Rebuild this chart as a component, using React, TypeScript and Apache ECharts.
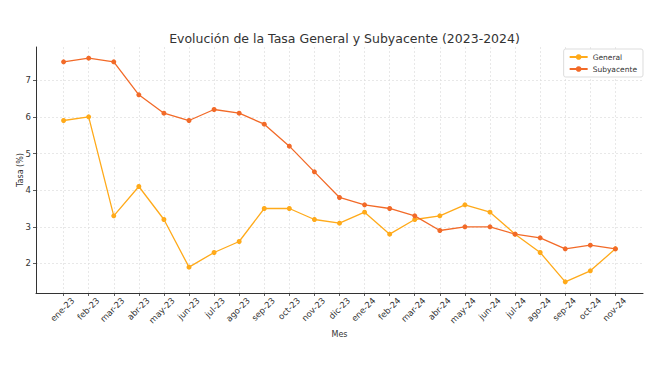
import React, { useEffect, useRef } from "react";
import * as echarts from "echarts";

const months = [
  "ene-23", "feb-23", "mar-23", "abr-23", "may-23", "jun-23", "jul-23", "ago-23",
  "sep-23", "oct-23", "nov-23", "dic-23", "ene-24", "feb-24", "mar-24", "abr-24",
  "may-24", "jun-24", "jul-24", "ago-24", "sep-24", "oct-24", "nov-24",
];
const general = [5.9, 6.0, 3.3, 4.1, 3.2, 1.9, 2.3, 2.6, 3.5, 3.5, 3.2, 3.1, 3.4, 2.8, 3.2, 3.3, 3.6, 3.4, 2.8, 2.3, 1.5, 1.8, 2.4];
const subyacente = [7.5, 7.6, 7.5, 6.6, 6.1, 5.9, 6.2, 6.1, 5.8, 5.2, 4.5, 3.8, 3.6, 3.5, 3.3, 2.9, 3.0, 3.0, 2.8, 2.7, 2.4, 2.5, 2.4];
const yTicks = [2, 3, 4, 5, 6, 7];

const FONT = "DejaVu Sans";
// rotated labels are centred under their tick (matplotlib ha="center"):
// the end of each label sits a little to the right of the tick
const LABEL_SHIFT = 0.37;

export default function App() {
  const ref = useRef<HTMLDivElement>(null);
  useEffect(() => {
    const chart = echarts.init(ref.current!, null, { renderer: "svg" });
    const idx = months.map((_, i) => i);
    const n = months.length - 1;
    const yMin = 1.5 - 0.05 * (7.6 - 1.5);
    const yMax = 7.6 + 0.05 * (7.6 - 1.5);
    chart.setOption({
      animation: false,
      backgroundColor: "#ffffff",
      textStyle: { fontFamily: FONT },
      title: {
        text: "Evolución de la Tasa General y Subyacente (2023-2024)",
        left: 339.5,
        textAlign: "center",
        top: 27,
        textStyle: { fontFamily: FONT, fontSize: 12.5, fontWeight: "normal", color: "#333333" },
      },
      legend: {
        orient: "vertical",
        right: 16,
        top: 49,
        itemWidth: 18,
        itemHeight: 7,
        itemGap: 4,
        padding: [4, 6, 4, 5],
        borderColor: "#dddddd",
        borderWidth: 1,
        borderRadius: 2,
        backgroundColor: "#ffffff",
        textStyle: { fontFamily: FONT, fontSize: 7.5, color: "#333333" },
        data: ["General", "Subyacente"],
      },
      grid: { left: 36, right: 16, top: 47, bottom: 78, containLabel: false },
      xAxis: {
        type: "value",
        min: -0.05 * n,
        max: n + 0.05 * n,
        name: "Mes",
        nameLocation: "middle",
        nameGap: 37,
        nameMoveOverlap: false,
        nameTextStyle: { fontFamily: FONT, fontSize: 8, color: "#333333" },
        axisLine: { show: true, onZero: false, lineStyle: { color: "#333333", width: 1 } },
        axisTick: { show: true, length: 3, customValues: idx, lineStyle: { color: "#333333", width: 0.8 } },
        axisLabel: {
          customValues: idx.map((i) => i + LABEL_SHIFT),
          rotate: 45,
          margin: 6,
          fontFamily: FONT,
          fontSize: 8.5,
          color: "#333333",
          formatter: (v: number) => months[Math.round(v - LABEL_SHIFT)] ?? "",
        },
        splitLine: { show: true, lineStyle: { color: "#dedede", type: [2, 2], width: 0.7 } },
      },
      yAxis: {
        type: "value",
        min: yMin,
        max: yMax,
        name: "Tasa (%)",
        nameLocation: "middle",
        nameGap: 12,
        nameMoveOverlap: false,
        nameTextStyle: { fontFamily: FONT, fontSize: 8, color: "#333333" },
        axisLine: { show: true, onZero: false, lineStyle: { color: "#333333", width: 1 } },
        axisTick: { show: true, length: 3, customValues: yTicks, lineStyle: { color: "#333333", width: 0.8 } },
        axisLabel: { customValues: yTicks, margin: 5, fontFamily: FONT, fontSize: 8.5, color: "#333333" },
        splitLine: { show: true, lineStyle: { color: "#dedede", type: [2, 2], width: 0.7 } },
      },
      series: [
        {
          name: "General",
          type: "line",
          data: general.map((v, i) => [i, v]),
          symbol: "circle",
          symbolSize: 5,
          color: "#FFAA1A",
          lineStyle: { width: 1.3, color: "#FFAA1A" },
          itemStyle: { color: "#FFAA1A" },
        },
        {
          name: "Subyacente",
          type: "line",
          data: subyacente.map((v, i) => [i, v]),
          symbol: "circle",
          symbolSize: 5,
          color: "#F26A28",
          lineStyle: { width: 1.3, color: "#F26A28" },
          itemStyle: { color: "#F26A28" },
        },
      ],
    });
    return () => chart.dispose();
  }, []);
  return <div ref={ref} style={{ width: 659, height: 371, position: "absolute", left: 0, top: 0 }} />;
}
